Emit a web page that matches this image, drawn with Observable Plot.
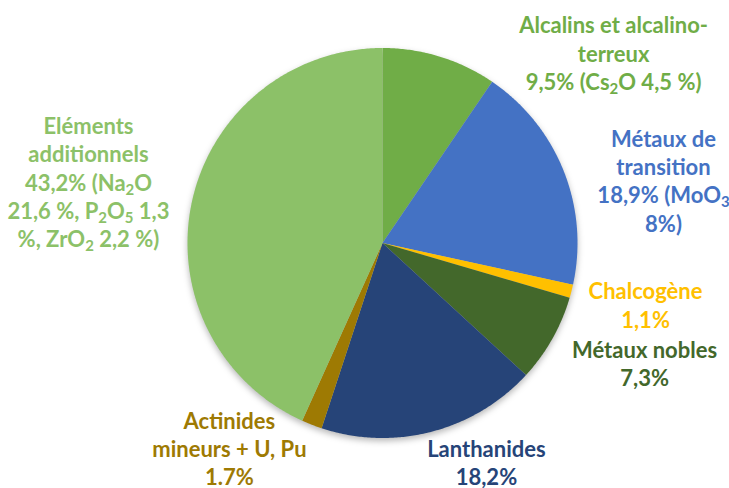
<!DOCTYPE html>
<html><head><meta charset="utf-8">
<script src="https://cdn.jsdelivr.net/npm/d3@7"></script>
<script src="https://cdn.jsdelivr.net/npm/@observablehq/plot@0.6"></script>
<style>
body{margin:0;background:#fff;}
#chart svg{display:block;background:#fff;}
#chart g[aria-label="line"]{filter:drop-shadow(0px 3px 3px rgba(0,0,0,0.28));}
</style></head><body><div id="chart"></div>
<script>
// ---- data ----
const categories = ["Alcalins et alcalino-terreux", "Métaux de transition", "Chalcogène", "Métaux nobles", "Lanthanides", "Actinides mineurs + U, Pu", "Eléments additionnels"];
const values = [9.5, 18.9, 1.1, 7.3, 18.2, 1.7, 43.2];
const sliceColors = ["#70AD47", "#4472C4", "#FFC000", "#43682B", "#264478", "#9E7A03", "#8CC168"];
const labelTexts = [
  "Alcalins et alcalino-\nterreux\n9,5% (Cs₂O 4,5 %)",
  "Métaux de\ntransition\n18,9% (MoO₃\n8%)",
  "Chalcogène\n1,1%",
  "Métaux nobles\n7,3%",
  "Lanthanides\n18,2%",
  "Actinides\nmineurs + U, Pu\n1.7%",
  "Eléments\nadditionnels\n43,2% (Na₂O\n21,6 %, P₂O₅ 1,3\n%, ZrO₂ 2,2 %)"
];
// label block centres, relative to the pie centre, in units of the radius
const labelOffsets = [[1.185, 0.977], [1.441, 0.321], [1.349, -0.315], [1.344, -0.615], [0.533, -1.122], [-0.785, -1.050], [-1.508, 0.315]];

// ---- layout ----
const W = 729, H = 488, cx = 382, cy = 242.5, R = 195;

const arcs = d3.pie().sort(null).value(d => d)(values);
const slicePts = [];
arcs.forEach((a, i) => {
  const n = Math.max(2, Math.ceil((a.endAngle - a.startAngle) / (Math.PI / 360)));
  slicePts.push({name: categories[i], color: sliceColors[i], x: 0, y: 0});
  for (let k = 0; k <= n; k++) {
    const t = a.startAngle + (a.endAngle - a.startAngle) * k / n;
    slicePts.push({name: categories[i], color: sliceColors[i], x: Math.sin(t), y: Math.cos(t)});
  }
});
const labels = categories.map((c, i) => ({name: c, text: labelTexts[i], color: sliceColors[i], x: labelOffsets[i][0], y: labelOffsets[i][1]}));

const chart = Plot.plot({
  width: W, height: H,
  margin: 0,
  x: {domain: [-cx / R, (W - cx) / R], axis: null},
  y: {domain: [-(H - cy) / R, cy / R], axis: null},
  color: {type: "identity"},
  marks: [
    Plot.line(slicePts, {x: "x", y: "y", z: "name", fill: "color", stroke: "none", curve: "linear"}),
    Plot.text(labels, {x: "x", y: "y", text: "text", fill: "color", fontSize: 22, fontWeight: "bold", fontFamily: "Lato", lineHeight: 1.28, textAnchor: "middle", lineAnchor: "middle"})
  ]
});

// subscripts
chart.querySelectorAll('g[aria-label="text"] tspan').forEach(t => {
  const s = t.textContent;
  if (!/[\u2080-\u2089]/.test(s)) return;
  t.textContent = "";
  const re = /([\u2080-\u2089]+)|([^\u2080-\u2089]+)/g;
  let m;
  while ((m = re.exec(s))) {
    const ts = document.createElementNS("http://www.w3.org/2000/svg", "tspan");
    if (m[1]) {
      ts.textContent = m[1].replace(/[\u2080-\u2089]/g, c => String.fromCharCode(c.charCodeAt(0) - 0x2080 + 48));
      ts.setAttribute("baseline-shift", "-0.25em");
      ts.setAttribute("font-size", "68%");
    } else ts.textContent = m[2];
    t.appendChild(ts);
  }
});
document.getElementById("chart").appendChild(chart);
</script>
</body></html>
